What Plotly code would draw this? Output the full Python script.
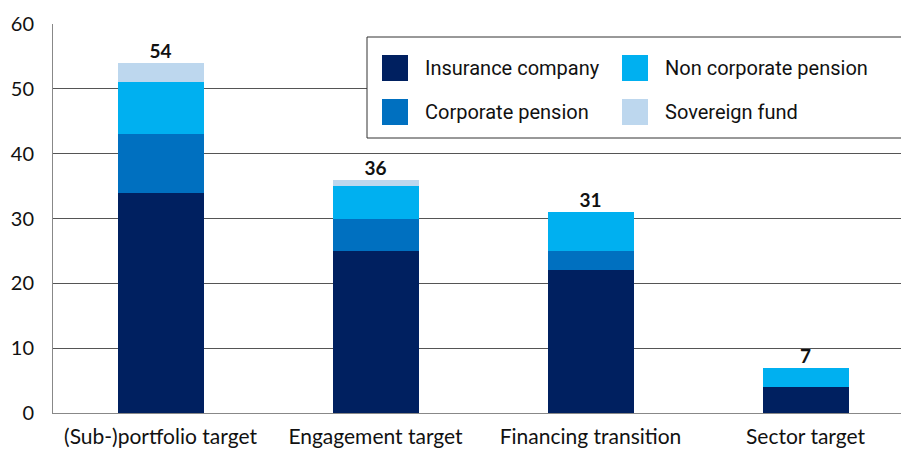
import plotly.graph_objects as go

categories = ["(Sub-)portfolio target", "Engagement target", "Financing transition", "Sector target"]
insurance = [34, 25, 22, 4]
corporate = [9, 5, 3, 0]
non_corporate = [8, 5, 6, 3]
sovereign = [3, 1, 0, 0]
totals = [54, 36, 31, 7]

series = [
    ("Insurance company", insurance, "#002060"),
    ("Corporate pension", corporate, "#0070C0"),
    ("Non corporate pension", non_corporate, "#00B0F0"),
    ("Sovereign fund", sovereign, "#BDD7EE"),
]

W, H = 901, 450
L, R, T, B = 53, 0, 24, 37
pw, ph = W - L - R, H - T - B

def px(x):
    return (x - L) / pw

def py(y):
    return (H - B - y) / ph

fig = go.Figure()
for name, vals, col in series:
    fig.add_trace(go.Bar(x=categories, y=vals, name=name, marker_color=col,
                         marker_line_width=0, width=0.4, showlegend=False))

fig.add_trace(go.Scatter(x=categories, y=totals, mode="text",
                         text=[f"<b>{t}</b>" for t in totals],
                         textposition="top center",
                         textfont=dict(family="Lato", size=19, color="#111"),
                         showlegend=False, hoverinfo="skip"))

shapes = [dict(type="rect", xref="paper", yref="paper", x0=px(367), x1=px(910),
               y0=py(138), y1=py(37), fillcolor="white", line=dict(color="#333", width=1),
               layer="above")]
annotations = []
legend_pos = [(382, 55), (382, 99), (622, 55), (622, 99)]
for (name, vals, col), (sx, sy) in zip(series, legend_pos):
    shapes.append(dict(type="rect", xref="paper", yref="paper", x0=px(sx), x1=px(sx + 26),
                       y0=py(sy + 26), y1=py(sy), fillcolor=col, line=dict(width=0),
                       layer="above"))
    annotations.append(dict(xref="paper", yref="paper", x=px(sx + 41), y=py(sy + 13),
                            text=name, showarrow=False, xanchor="left", yanchor="middle",
                            font=dict(family="Roboto", size=20, color="#111")))

fig.update_layout(
    barmode="stack",
    width=W, height=H,
    margin=dict(l=L, r=R, t=T, b=B, autoexpand=False),
    plot_bgcolor="white", paper_bgcolor="white",
    shapes=shapes, annotations=annotations,
    font=dict(family="Lato", size=18, color="#111"),
    xaxis=dict(range=[-0.5, (W - L) / 215 - 0.5], showgrid=False, showline=True,
               linecolor="#888", linewidth=1, ticks="", tickfont=dict(size=21),
               ticklabelstandoff=5, automargin=False),
    yaxis=dict(range=[0, 60], dtick=10, showgrid=True, gridcolor="#555", gridwidth=1,
               showline=True, linecolor="#888", linewidth=1, zeroline=False,
               ticks="", ticklabelstandoff=14, tickfont=dict(size=20),
               automargin=False),
)

fig.write_html("out.html", config={"displayModeBar": False},
               post_script="document.body.style.margin='0';document.body.style.overflow='hidden';")
